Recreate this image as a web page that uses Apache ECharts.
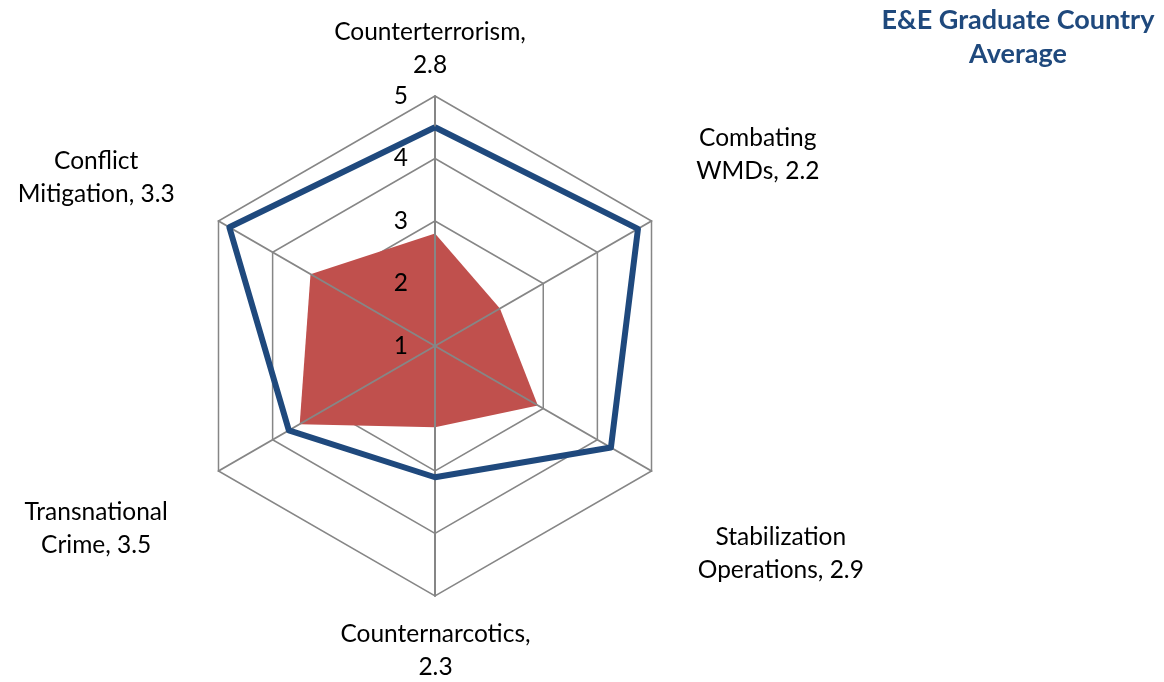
<!DOCTYPE html>
<html>
<head>
<meta charset="utf-8">
<script src="https://cdn.jsdelivr.net/npm/echarts@6/dist/echarts.min.js"></script>
<style>
  html, body { margin: 0; padding: 0; background: #ffffff; }
  #chart { width: 1164px; height: 682px; }
</style>
</head>
<body>
<div id="chart"></div>
<script>
// ---- data (clockwise from top, as in the reference) ----
const categories = ['Counterterrorism', 'Combating\nWMDs', 'Stabilization\nOperations', 'Counternarcotics', 'Transnational\nCrime', 'Conflict\nMitigation'];
const countryAverage = [2.8, 2.2, 2.9, 2.3, 3.5, 3.3];
const benchmark = [4.5, 4.75, 4.25, 3.1, 3.7, 4.8];
const scaleMin = 1;
const scaleMax = 5;
const titleText = 'E&E Graduate Country\nAverage';

// ---- layout / style (not data) ----
const FONT = 'Lato, "Liberation Sans", sans-serif';
const LABEL_SIZE = 24.5;
const CENTER = [435, 346];
const RADIUS = 250;
// label shift [dx, dy] relative to the anchor point (radius + nameGap) per category
const labelShift = [[-5, 3], [63, -41], [86, 58], [0, 5], [-79, 33], [-79, -18]];

// ECharts radar runs counter-clockwise: keep first, reverse the rest
const order = [0].concat(categories.map((_, i) => i).slice(1).reverse());

const rich = {
  t: { fontSize: LABEL_SIZE, fontFamily: FONT, color: '#000', lineHeight: 33 }
};
categories.forEach((c, i) => {
  const [sx, sy] = labelShift[i];
  rich['h' + i] = { width: Math.max(1, 2 * Math.abs(sx)), fontSize: 1, lineHeight: 1 };
  rich['v' + i] = { width: 1, fontSize: 1, lineHeight: Math.max(1, 2 * Math.abs(sy)) };
});

function nameFormatter(name) {
  const i = categories.indexOf(name);
  const v = countryAverage[i].toFixed(1);
  const [sx, sy] = labelShift[i];
  let l1, l2;
  if (name.indexOf('\n') >= 0) {
    const p = name.split('\n');
    l1 = p[0]; l2 = p[1] + ', ' + v;
  } else {
    l1 = name + ','; l2 = v;
  }
  const line = s => (sx >= 0 ? '{h' + i + '| }{t|' + s + '}' : '{t|' + s + '}{h' + i + '| }');
  let lines = [line(l1), line(l2)];
  if (sy > 0) lines.unshift('{v' + i + '| }');
  if (sy < 0) lines.push('{v' + i + '| }');
  return lines.join('\n');
}

const indicator = order.map(i => ({ name: categories[i], min: scaleMin, max: scaleMax }));
const gridColor = '#868686';

const option = {
  animation: false,
  backgroundColor: '#ffffff',
  title: {
    text: titleText,
    left: 1018,
    top: 3,
    padding: 0,
    textAlign: 'center',
    textStyle: { fontFamily: FONT, fontSize: 27, fontWeight: 'bold', color: '#1F497D', lineHeight: 34 }
  },
  radar: [
    {
      center: CENTER,
      radius: RADIUS,
      shape: 'polygon',
      splitNumber: scaleMax - scaleMin,
      startAngle: 90,
      indicator: indicator,
      nameGap: 50,
      axisName: {
        formatter: nameFormatter,
        color: '#000',
        fontSize: LABEL_SIZE,
        fontFamily: FONT,
        align: 'center',
        verticalAlign: 'middle',
        rich: rich
      },
      axisLine: { show: false },
      axisTick: { show: false },
      axisLabel: { show: false },
      splitLine: { lineStyle: { color: gridColor, width: 1.5 } },
      splitArea: { show: false },
      z: 0
    },
    {
      center: CENTER,
      radius: RADIUS,
      shape: 'polygon',
      splitNumber: scaleMax - scaleMin,
      startAngle: 90,
      indicator: indicator,
      axisName: { show: false },
      axisLine: { show: true, lineStyle: { color: gridColor, width: 2 } },
      axisTick: { show: false },
      axisLabel: { show: false },
      splitLine: { show: false },
      splitArea: { show: false },
      z: 5
    }
  ],
  polar: { center: CENTER, radius: RADIUS },
  angleAxis: { type: 'value', startAngle: 90, min: 0, max: 360, show: false },
  radiusAxis: {
    type: 'value', min: scaleMin, max: scaleMax, interval: 1,
    axisLine: { show: false }, axisTick: { show: false }, splitLine: { show: false },
    axisLabel: { show: true, fontSize: LABEL_SIZE, fontFamily: FONT, color: '#000', margin: 27 },
    z: 6
  },
  series: [
    {
      type: 'radar',
      radarIndex: 0,
      name: 'E&E Graduate Country Average',
      symbol: 'none',
      z: 2,
      lineStyle: { width: 0, color: '#C0504D' },
      areaStyle: { color: '#C0504D', opacity: 1 },
      itemStyle: { color: '#C0504D' },
      data: [{ value: order.map(i => countryAverage[i]) }]
    },
    {
      type: 'radar',
      radarIndex: 0,
      name: 'Benchmark',
      symbol: 'none',
      z: 10,
      lineStyle: { width: 6, color: '#1F497D' },
      itemStyle: { color: '#1F497D' },
      data: [{ value: order.map(i => benchmark[i]) }]
    }
  ]
};

const chart = echarts.init(document.getElementById('chart'), null, { renderer: 'canvas' });
chart.setOption(option);
</script>
</body>
</html>
